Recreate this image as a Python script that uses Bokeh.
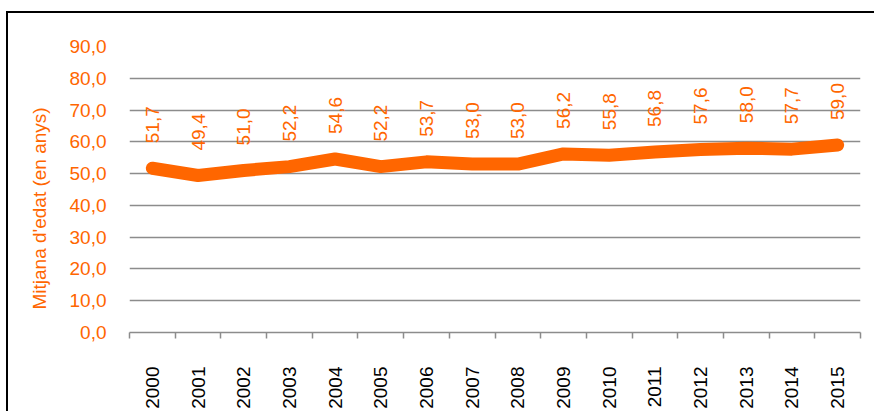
import math
from bokeh.plotting import figure
from bokeh.layouts import column, row
from bokeh.models import Range1d, FixedTicker, ColumnDataSource, Title, Div
from bokeh.core.properties import value
from bokeh.embed import file_html
from bokeh.resources import INLINE

years = ["2000", "2001", "2002", "2003", "2004", "2005", "2006", "2007",
         "2008", "2009", "2010", "2011", "2012", "2013", "2014", "2015"]
ages = [51.7, 49.4, 51.0, 52.2, 54.6, 52.2, 53.7, 53.0,
        53.0, 56.2, 55.8, 56.8, 57.6, 58.0, 57.7, 59.0]
y_ticks = [0, 10, 20, 30, 40, 50, 60, 70, 80, 90]
y_tick_labels = ["0,0", "10,0", "20,0", "30,0", "40,0", "50,0", "60,0", "70,0", "80,0", "90,0"]
y_title = "Mitjana d'edat (en anys)"

ORANGE = "#FF6600"
FONT = "Liberation Sans"

xs = list(range(len(years)))
src = ColumnDataSource(dict(
    x=xs, y=ages,
    lbl=[f"{v:.1f}".replace(".", ",") for v in ages],
))

fig = figure(width=862, height=398, output_backend="svg", toolbar_location=None,
             x_range=Range1d(-0.5, len(years) - 0.5), y_range=Range1d(0, 90),
             min_border_left=121, min_border_right=10, min_border_top=33,
             min_border_bottom=78, margin=0)
fig.outline_line_color = None
fig.background_fill_color = "white"
fig.border_fill_color = "white"

# grid
fig.xgrid.grid_line_color = None
fig.ygrid.ticker = FixedTicker(ticks=y_ticks[1:])
fig.ygrid.grid_line_color = "#8c8c8c"
fig.ygrid.grid_line_width = 1.5

# y axis
ya = fig.yaxis[0]
ya.ticker = FixedTicker(ticks=y_ticks)
ya.major_label_overrides = {t: l for t, l in zip(y_ticks, y_tick_labels)}
ya.axis_line_color = None
ya.major_tick_line_color = None
ya.minor_tick_line_color = None
ya.major_tick_out = 0
ya.major_tick_in = 0
ya.major_label_standoff = 23
ya.major_label_text_color = ORANGE
ya.major_label_text_font = FONT
ya.major_label_text_font_size = "19px"

fig.add_layout(Title(text=y_title, align="left", offset=23, standoff=34,
                     text_color=ORANGE, text_font=FONT, text_font_size="19px",
                     text_font_style="normal"), "left")

# x axis
xa = fig.xaxis[0]
xa.ticker = FixedTicker(ticks=xs, minor_ticks=[i - 0.5 for i in range(len(years) + 1)])
xa.major_label_overrides = {i: y for i, y in enumerate(years)}
xa.axis_line_color = "#8c8c8c"
xa.axis_line_width = 1.5
xa.major_tick_line_color = None
xa.major_tick_out = 0
xa.major_tick_in = 0
xa.minor_tick_line_color = "#8c8c8c"
xa.minor_tick_line_width = 1.5
xa.minor_tick_out = 6
xa.minor_tick_in = 0
xa.major_label_orientation = math.pi / 2
xa.major_label_standoff = 28
xa.major_label_text_color = "black"
xa.major_label_text_font = FONT
xa.major_label_text_font_size = "19px"

fig.line("x", "y", source=src, line_color=ORANGE, line_width=13,
         line_cap="round", line_join="round")
fig.text("x", "y", text="lbl", source=src, angle=math.pi / 2,
         text_align="left", text_baseline="middle", y_offset=-25,
         text_color=ORANGE, text_font=value(FONT), text_font_size="19px")

# chart-area border: top and left edges
top_edge = Div(text="", width=868, height=2, margin=0,
               styles={"background-color": "black"})
left_edge = Div(text="", width=2, height=398, margin=0,
                styles={"background-color": "black"})

p = column(top_edge, row(left_edge, fig, margin=0, spacing=0),
           margin=(11, 0, 0, 6), spacing=0)

open("out.html", "w").write(file_html(p, INLINE))
